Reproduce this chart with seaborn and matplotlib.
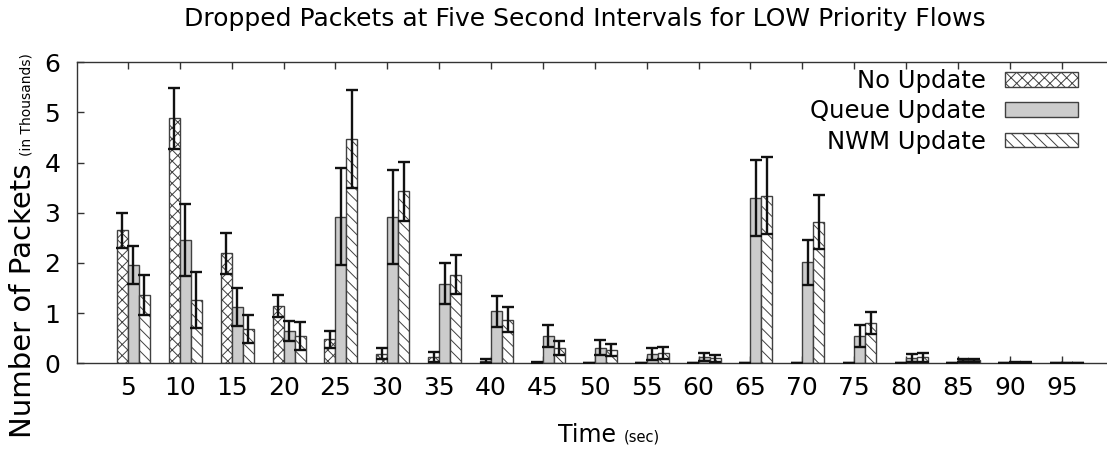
import numpy as np
import pandas as pd
import matplotlib
matplotlib.use("Agg")
import matplotlib.pyplot as plt
import seaborn as sns

# Dropped packets (thousands) per 5 s interval, low-priority flows
times = [5, 10, 15, 20, 25, 30, 35, 40, 45, 50, 55, 60, 65, 70, 75, 80, 85, 90, 95]
series = ["No Update", "Queue Update", "NWM Update"]

no_update = [2.65, 4.88, 2.19, 1.14, 0.48, 0.19, 0.12, 0.05, 0.02, 0.0,
             0.0, 0.0, 0.0, 0.0, 0.0, 0.0, 0.0, 0.0, 0.0]
no_update_err = [0.35, 0.61, 0.40, 0.22, 0.17, 0.11, 0.10, 0.04, 0.01, 0.0,
                 0.0, 0.0, 0.0, 0.0, 0.0, 0.0, 0.0, 0.0, 0.0]

queue = [1.96, 2.46, 1.12, 0.65, 2.92, 2.92, 1.59, 1.04, 0.54, 0.31,
         0.19, 0.12, 3.30, 2.01, 0.54, 0.11, 0.06, 0.02, 0.005]
queue_err = [0.38, 0.72, 0.38, 0.20, 0.97, 0.94, 0.41, 0.31, 0.22, 0.15,
             0.12, 0.08, 0.76, 0.44, 0.22, 0.08, 0.03, 0.01, 0.0]

nwm = [1.37, 1.26, 0.68, 0.54, 4.47, 3.43, 1.77, 0.87, 0.31, 0.27,
       0.21, 0.10, 3.34, 2.82, 0.81, 0.12, 0.06, 0.01, 0.005]
nwm_err = [0.40, 0.55, 0.28, 0.28, 0.97, 0.59, 0.39, 0.25, 0.14, 0.12,
           0.12, 0.07, 0.77, 0.54, 0.22, 0.09, 0.03, 0.01, 0.0]

y_ticks = [0, 1, 2, 3, 4, 5, 6]

fills = {"No Update": "#ffffff", "Queue Update": "#cccccc", "NWM Update": "#ffffff"}
hatches = ["xxx", "", "\\\\\\"]

sns.set_theme(style="white")
plt.rcParams["font.family"] = ["DejaVu Sans"]
plt.rcParams["hatch.linewidth"] = 0.7
for key in ["text.color", "axes.labelcolor", "xtick.color", "ytick.color"]:
    plt.rcParams[key] = "black"

df = pd.DataFrame({
    "Time": np.tile(times, len(series)),
    "Series": np.repeat(series, len(times)),
    "Packets": no_update + queue + nwm,
})

W, H = 1107, 450
fig = plt.figure(figsize=(W / 100, H / 100), dpi=100)
ax = fig.add_axes([77 / W, (H - 363.3) / H, (W - 77) / W, (363.3 - 62.3) / H])

sns.barplot(data=df, x="Time", y="Packets", hue="Series", order=times,
            hue_order=series, palette=fills, width=0.636, saturation=1,
            errorbar=None, legend=False, ax=ax,
            edgecolor="#404040", linewidth=1.0)

for cont, hatch in zip(ax.containers, hatches):
    for p in cont:
        p.set_hatch(hatch)

# error bars centred on each bar
for cont, vals, errs in zip(ax.containers, [no_update, queue, nwm],
                            [no_update_err, queue_err, nwm_err]):
    xs = [p.get_x() + p.get_width() / 2 for p in cont]
    ax.errorbar(xs, vals, yerr=errs, fmt="none", ecolor="#111111",
                elinewidth=1.7, capsize=4.3, capthick=1.7, zorder=5)

# group ticks sit between the first and second bar of each cluster
tick_pos = [p.get_x() + p.get_width() for p in ax.containers[0]]
ax.set_xticks(tick_pos, labels=[str(t) for t in times])
ax.set_xlim(tick_pos[0] - 0.983, tick_pos[-1] + 0.873)
ax.set_ylim(0, 6)
ax.set_yticks(y_ticks, labels=[str(v) for v in y_ticks])
ax.set_xlabel("")
ax.set_ylabel("")

for side in ["top", "left", "bottom"]:
    ax.spines[side].set_color("#333333")
    ax.spines[side].set_linewidth(1.0)
ax.spines["right"].set_visible(False)

ax.tick_params(axis="x", direction="in", bottom=True, top=True, length=5,
               width=1, color="#333333", labelsize=18, pad=9)
ax.tick_params(axis="y", direction="in", left=True, right=False, length=5,
               width=1, color="#333333", labelsize=18, pad=12)

leg = ax.legend(handles=ax.containers, labels=series, loc="upper right",
                bbox_to_anchor=(1078 / W, (H - 69) / H),
                bbox_transform=fig.transFigure, frameon=False,
                markerfirst=False, fontsize=17.5, handlelength=3.0,
                handleheight=0.55, labelspacing=0.26, handletextpad=0.8,
                borderpad=0, borderaxespad=0)

fig.text(585 / W, (H - 26) / H,
         "Dropped Packets at Five Second Intervals for LOW Priority Flows",
         ha="center", va="baseline", fontsize=18)

fig.canvas.draw()
renderer = fig.canvas.get_renderer()

# y label: large main text followed by a small unit note on the same baseline
t1 = fig.text(31 / W, (H - 438) / H, "Number of Packets", rotation=90,
              rotation_mode="anchor", ha="left", va="baseline", fontsize=21)
bb = t1.get_window_extent(renderer)
fig.text(31 / W, (bb.y1 + 7) / H, "(in Thousands)", rotation=90,
         rotation_mode="anchor", ha="left", va="baseline", fontsize=10)

# x label
t2 = fig.text(587 / W, (H - 442) / H, "Time", ha="center", va="baseline",
              fontsize=17)
bb = t2.get_window_extent(renderer)
fig.text((bb.x1 + 8) / W, (H - 442) / H, "(sec)", ha="left", va="baseline",
         fontsize=10.5)

fig.savefig("out.png", dpi=100)
